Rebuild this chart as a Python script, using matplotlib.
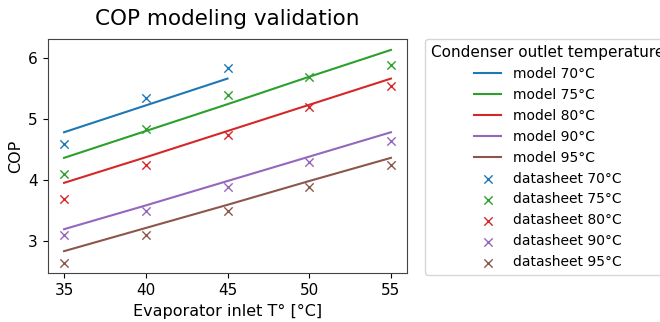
import matplotlib
matplotlib.use("Agg")
import matplotlib.pyplot as plt

x = [35, 40, 45, 50, 55]
x70 = [35, 40, 45]
temps = ["70", "75", "80", "90", "95"]
colors = ["#1f77b4", "#2ca02c", "#d62728", "#9467bd", "#8c564b"]

model_70 = [4.79, 5.23, 5.67]
model_75 = [4.37, 4.81, 5.25, 5.70, 6.14]
model_80 = [3.96, 4.38, 4.81, 5.24, 5.67]
model_90 = [3.20, 3.59, 3.99, 4.39, 4.79]
model_95 = [2.84, 3.22, 3.60, 3.99, 4.37]

data_70 = [4.60, 5.35, 5.85]
data_75 = [4.10, 4.85, 5.40, 5.70, 5.90]
data_80 = [3.70, 4.25, 4.75, 5.20, 5.55]
data_90 = [3.10, 3.50, 3.90, 4.30, 4.65]
data_95 = [2.65, 3.10, 3.50, 3.90, 4.25]

models = [(x70, model_70), (x, model_75), (x, model_80), (x, model_90), (x, model_95)]
datas = [(x70, data_70), (x, data_75), (x, data_80), (x, data_90), (x, data_95)]

fig = plt.figure(figsize=(6.6, 3.22), dpi=100)
ax = fig.add_axes([0.0723, 0.151, 0.5448, 0.727])

for (xs, ys), t, c in zip(models, temps, colors):
    ax.plot(xs, ys, color=c, lw=1.5, label=f"model {t}°C")
for (xs, ys), t, c in zip(datas, temps, colors):
    ax.scatter(xs, ys, marker="x", color=c, s=36, linewidths=1.0, label=f"datasheet {t}°C")

ax.set_xticks([35, 40, 45, 50, 55])
ax.set_yticks([3, 4, 5, 6])
ax.tick_params(labelsize=11)
for s in ax.spines.values():
    s.set_color("#444444")
ax.set_xlabel("Evaporator inlet T° [°C]", fontsize=11.5)
ax.set_ylabel("COP", fontsize=11.5)
ax.set_title("COP modeling validation", fontsize=15.5, pad=10)
ax.legend(title="Condenser outlet temperature", loc="upper left",
          bbox_to_anchor=(1.05, 1), borderaxespad=0, fontsize=10, title_fontsize=11)

fig.savefig("out.png", dpi=100)
